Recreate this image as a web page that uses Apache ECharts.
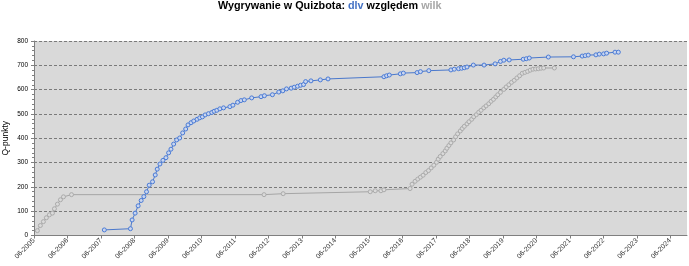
<!DOCTYPE html>
<html>
<head>
<meta charset="utf-8">
<script src="https://cdn.jsdelivr.net/npm/echarts@6/dist/echarts.min.js"></script>
<style>
html,body{margin:0;padding:0;background:#fff;}
#chart{width:689px;height:266px;}
</style>
</head>
<body>
<div id="chart"></div>
<script>
// Tick labels (one per June, 2005..2024)
const tickLabels = ['06-2005','06-2006','06-2007','06-2008','06-2009','06-2010','06-2011','06-2012','06-2013','06-2014',
  '06-2015','06-2016','06-2017','06-2018','06-2019','06-2020','06-2021','06-2022','06-2023','06-2024'];
const axisStartYear = 2005.5; // June 2005

// dlv: dates as decimal years, Q-points
const dlvDates = [2007.60,2008.38,2008.43,2008.52,2008.61,2008.70,2008.78,2008.86,2008.94,2009.04,
  2009.12,2009.18,2009.26,2009.35,2009.44,2009.52,2009.59,2009.67,2009.76,2009.85,
  2009.94,2010.03,2010.10,2010.19,2010.27,2010.37,2010.45,2010.53,2010.61,2010.71,
  2010.81,2010.88,2010.96,2011.05,2011.16,2011.35,2011.44,2011.58,2011.68,2011.78,
  2012.00,2012.28,2012.38,2012.62,2012.81,2012.93,2013.04,2013.18,2013.27,2013.37,
  2013.46,2013.55,2013.61,2013.77,2014.05,2014.28,2015.95,2016.03,2016.11,2016.44,
  2016.53,2016.94,2017.04,2017.29,2017.95,2018.05,2018.18,2018.27,2018.35,2018.43,
  2018.62,2018.94,2019.27,2019.43,2019.53,2019.69,2020.11,2020.20,2020.29,2020.86,
  2021.61,2021.87,2021.96,2022.05,2022.28,2022.38,2022.51,2022.60,2022.85,2022.95];
const dlvPoints = [23,28,64,92,122,144,160,180,207,221,
  249,273,294,309,320,340,355,376,393,401,
  422,438,455,464,471,478,484,488,496,501,
  506,511,515,521,525,530,536,548,555,558,
  566,571,575,579,590,595,603,606,610,614,
  618,621,633,636,640,644,653,657,660,665,
  668,670,674,678,681,684,686,688,690,693,
  701,701,706,716,721,722,725,727,730,734,
  735,738,740,742,743,746,747,750,754,754];

// wilk: dates as decimal years, Q-points
const wilkDates = [2005.60,2005.69,2005.78,2005.87,2005.96,2006.05,2006.11,2006.20,2006.29,2006.38,
  2006.62,2012.37,2012.94,2015.54,2015.69,2015.86,2015.95,2016.73,
  2016.79,2016.88,2016.96,2017.04,2017.12,2017.20,2017.28,2017.36,2017.44,2017.52,
  2017.57,2017.63,2017.71,2017.78,2017.83,2017.89,2017.95,2018.03,2018.09,2018.15,
  2018.23,2018.29,2018.35,2018.43,2018.49,2018.57,2018.63,2018.71,2018.78,2018.85,
  2018.93,2019.00,2019.08,2019.15,2019.22,2019.29,2019.35,2019.43,2019.53,2019.60,
  2019.68,2019.76,2019.84,2019.92,2020.00,2020.08,2020.16,2020.24,2020.32,2020.40,
  2020.48,2020.56,2020.64,2020.72,2021.04];
const wilkPoints = [20,41,57,73,85,92,110,129,147,159,
  168,168,172,180,184,184,188,193,
  211,223,232,240,248,259,267,278,289,301,
  314,325,337,348,359,370,381,393,406,418,
  430,440,449,459,468,478,488,497,507,515,
  525,533,542,552,560,570,579,589,601,611,
  620,630,638,648,657,667,671,675,680,684,
  685,686,688,689,689];

const toData = (dates, vals) => dates.map((d, i) => [d - axisStartYear, vals[i]]);

const chart = echarts.init(document.getElementById('chart'), null, {renderer: 'canvas'});
const font = '"Liberation Sans", Arial, sans-serif';
chart.setOption({
  animation: false,
  backgroundColor: '#ffffff',
  title: {
    text: '{a|Wygrywanie w Quizbota: }{b|dlv}{a| względem }{c|wilk}',
    left: 218, top: 1, padding: 0,
    textStyle: {
      fontFamily: font,
      rich: {
        a: {fontSize: 10.8, fontWeight: 'bold', color: '#000', fontFamily: font},
        b: {fontSize: 10.8, fontWeight: 'bold', color: '#4472c4', fontFamily: font},
        c: {fontSize: 10.8, fontWeight: 'bold', color: '#a6a6a6', fontFamily: font}
      }
    }
  },
  grid: {
    left: 34, top: 41, width: 653, height: 194.5,
    containLabel: false, outerBoundsMode: 'none',
    show: true, backgroundColor: '#d9d9d9', borderWidth: 0
  },
  xAxis: {
    type: 'value', min: 0, max: 19.5, interval: 1,
    axisLine: {show: true, onZero: false, lineStyle: {color: '#7f7f7f', width: 1}},
    axisTick: {show: true, length: 3, inside: false, lineStyle: {color: '#7f7f7f'},
      customValues: tickLabels.map((_, i) => i)},
    axisLabel: {
      rotate: 45, fontSize: 7, color: '#333', fontFamily: font, margin: 4,
      customValues: tickLabels.map((_, i) => i),
      formatter: v => tickLabels[Math.round(v)] || ''
    },
    splitLine: {show: false}
  },
  yAxis: {
    type: 'value', min: 0, max: 800, interval: 100,
    name: 'Q-punkty', nameLocation: 'middle', nameGap: 24, nameRotate: 90,
    nameMoveOverlap: false,
    nameTextStyle: {fontSize: 8.5, color: '#000', fontFamily: font},
    axisLine: {show: true, lineStyle: {color: '#7f7f7f', width: 1}},
    axisTick: {show: true, length: 3, lineStyle: {color: '#7f7f7f'}},
    minorTick: {show: true, splitNumber: 5, length: 2, lineStyle: {color: '#7f7f7f'}},
    axisLabel: {fontSize: 6.5, color: '#000', fontFamily: font, margin: 6},
    splitLine: {show: true, lineStyle: {color: '#7a7a7a', type: [3, 2], width: 1}}
  },
  series: [
    {
      name: 'wilk', type: 'line', data: toData(wilkDates, wilkPoints),
      symbol: 'circle', symbolSize: 4, showAllSymbol: true,
      lineStyle: {color: '#a6a6a6', width: 1},
      itemStyle: {color: '#dadada', borderColor: '#ababab', borderWidth: 1},
      z: 2
    },
    {
      name: 'dlv', type: 'line', data: toData(dlvDates, dlvPoints),
      symbol: 'circle', symbolSize: 4, showAllSymbol: true,
      lineStyle: {color: '#4a78cc', width: 1},
      itemStyle: {color: '#c9d5ee', borderColor: '#4a7bd6', borderWidth: 1},
      z: 3
    }
  ]
});
</script>
</body>
</html>
